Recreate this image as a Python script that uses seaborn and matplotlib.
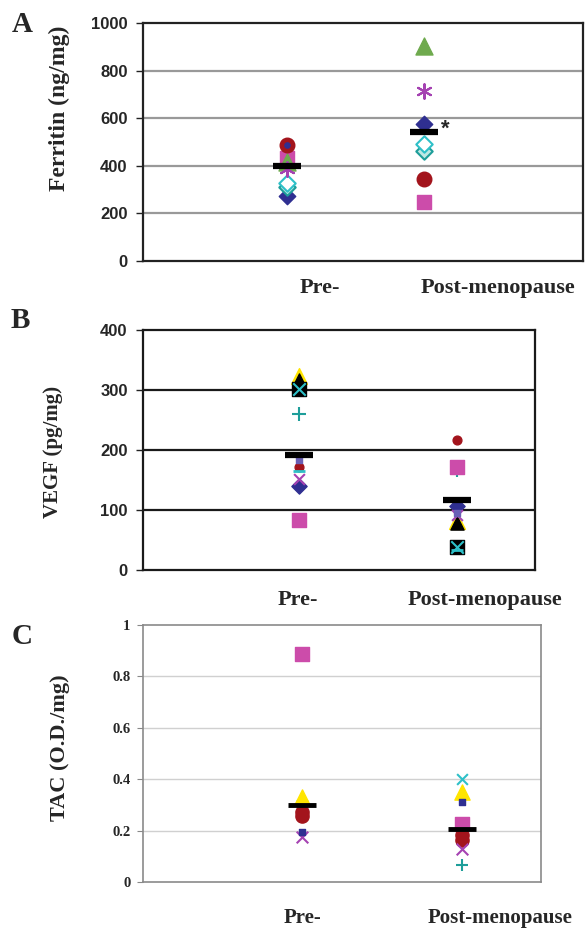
import numpy as np
import matplotlib
matplotlib.use("Agg")
import matplotlib.pyplot as plt
import seaborn as sns

sns.set_style("white")
plt.rcParams['font.family'] = ['Liberation Serif', 'DejaVu Serif']

groups = ["Pre-", "Post-menopause"]
panel_letters = ["A", "B", "C"]
ylabels = ["Ferritin (ng/mg)", "VEGF (pg/mg)", "TAC (O.D./mg)"]

# ---- Panel A: Ferritin (pre, post) ----
ferritin_navy_diamond = [272, 576]
ferritin_pink_square = [433, 248]
ferritin_green_triangle = [416, 903]
ferritin_purple_star = [387, 714]
ferritin_cyan_diamond = [328, 492]
ferritin_teal_diamond = [312, 462]
ferritin_red_circle = [487, 345]
ferritin_navy_dot = [487, 576]
ferritin_mean = [399, 542]
ferritin_ticks = [0, 200, 400, 600, 800, 1000]

# ---- Panel B: VEGF ----
vegf_yellow_triangle = [324, 81]
vegf_black_triangle = [316, 78]
vegf_black_square = [302, 38]
vegf_teal_plus = [260, 167]
vegf_navy_dash = [183, 95]
vegf_red_circle = [172, 217]
vegf_cyan_dash = [165, 33]
vegf_purple_x = [152, 92]
vegf_navy_diamond = [140, 107]
vegf_pink_square = [83, 172]
vegf_mean = [192, 117]
vegf_ticks = [0, 100, 200, 300, 400]

# ---- Panel C: TAC ----
tac_pink_square = [0.887, 0.225]
tac_yellow_triangle = [0.33, 0.35]
tac_red_circle_1 = [0.272, 0.182]
tac_red_circle_2 = [0.258, 0.162]
tac_navy_dash = [0.195, 0.31]
tac_purple_x = [0.175, 0.13]
tac_cyan_x = [0.30, 0.40]
tac_teal_plus = [0.30, 0.065]
tac_mean = [0.30, 0.205]
tac_ticks = [0, 0.2, 0.4, 0.6, 0.8, 1]
tac_ticklabels = ["0", "0.2", "0.4", "0.6", "0.8", "1"]

PINK = "#CC4CAA"
RED = "#A3141C"
NAVY = "#2F2F91"
GREEN = "#6FAA4E"
YELLOW = "#FFE500"
TEAL = "#1E9E9A"
CYAN = "#2EC0C8"
PURPLE = "#A542B2"

xpos = np.arange(len(groups))

fig = plt.figure(figsize=(5.85, 9.33), dpi=100)
W, H = 585.0, 933.0

def make_ax(l, r, t, b):
    return fig.add_axes([l / W, 1 - b / H, (r - l) / W, (b - t) / H])

axA = make_ax(143, 583, 23, 261)
axB = make_ax(143, 535, 330, 570)
axC = make_ax(143, 541, 625, 882)


def pts(ax, vals, marker, color, s, ec=None, lw=1.0, z=3):
    kw = dict(x=xpos, y=vals, marker=marker, color=color, s=s, ax=ax,
              linewidth=lw, zorder=z, legend=False)
    if ec is not None:
        kw["edgecolor"] = ec
    sns.scatterplot(**kw)


asterisk = (6, 2, 0)

# Panel A
pts(axA, ferritin_navy_diamond, "D", NAVY, 70, ec=NAVY)
pts(axA, ferritin_pink_square, "s", PINK, 95, ec=PINK)
pts(axA, ferritin_green_triangle, "^", GREEN, 150, ec=GREEN)
pts(axA, ferritin_red_circle, "o", RED, 110, ec=RED)
pts(axA, ferritin_navy_dot, "o", NAVY, 14, ec=NAVY, z=4)
pts(axA, ferritin_purple_star, asterisk, PURPLE, 110, lw=1.5, z=4)
pts(axA, ferritin_teal_diamond, "D", "#BFE8E4", 70, ec=TEAL, lw=1.5)
pts(axA, ferritin_cyan_diamond, "D", "white", 70, ec=CYAN, lw=1.5)
pts(axA, ferritin_mean, "_", "black", 380, lw=4.5, z=5)
axA.text(xpos[1] + 0.12, ferritin_mean[1] + 12, "*", fontsize=16,
         fontweight="bold", ha="left", va="center", family="Liberation Sans")

# Panel B
pts(axB, vegf_yellow_triangle, "^", YELLOW, 130, ec=YELLOW)
pts(axB, vegf_black_triangle, "^", "black", 90, ec="black")
pts(axB, vegf_black_square, "s", "black", 95, ec="black")
pts(axB, vegf_black_square, "x", CYAN, 80, lw=1.5, z=4)
pts(axB, vegf_teal_plus, "+", TEAL, 90, lw=1.5)
pts(axB, vegf_pink_square, "s", PINK, 95, ec=PINK)
pts(axB, vegf_red_circle, "o", RED, 40, ec=RED)
pts(axB, vegf_navy_diamond, "D", NAVY, 60, ec=NAVY)
pts(axB, vegf_purple_x, "x", PURPLE, 60, lw=1.5)
pts(axB, vegf_navy_dash, "s", "#6A5FB5", 20, ec="#6A5FB5")
pts(axB, vegf_cyan_dash, "_", CYAN, 80, lw=2)
pts(axB, vegf_mean, "_", "black", 420, lw=4.5, z=5)

# Panel C
pts(axC, tac_pink_square, "s", PINK, 110, ec=PINK)
pts(axC, tac_yellow_triangle, "^", YELLOW, 120, ec=YELLOW)
pts(axC, tac_red_circle_1, "o", RED, 90, ec=RED)
pts(axC, tac_red_circle_2, "o", RED, 90, ec=RED)
pts(axC, tac_purple_x, "x", PURPLE, 70, lw=1.5)
pts(axC, tac_navy_dash, "s", NAVY, 22, ec=NAVY, z=4)
pts(axC, tac_cyan_x, "x", CYAN, 60, lw=1.5, z=2)
pts(axC, tac_teal_plus, "+", TEAL, 80, lw=1.5, z=2)
pts(axC, tac_mean, "_", "black", 420, lw=3.5, z=5)

# ---- axes styling ----
axA.set_xlim(-1.048, 2.157)
axB.set_xlim(-0.988, 1.493)
axC.set_xlim(-0.995, 1.493)
axA.set_ylim(0, 1000)
axB.set_ylim(0, 400)
axC.set_ylim(0, 1)

for ax in (axA, axB, axC):
    ax.set_xticks([])
    ax.set_xlabel("")
    ax.set_facecolor("white")

# A
axA.set_yticks(ferritin_ticks)
axA.set_yticklabels([str(t) for t in ferritin_ticks], fontweight="bold",
                    fontsize=12, family="Liberation Sans")
axA.tick_params(axis="y", direction="out", length=5, width=1, color="#222222", pad=6, left=True)
for y in ferritin_ticks[1:-1]:
    axA.axhline(y, color="#999999", lw=1.6, zorder=1)
for side in ("left", "bottom", "top", "right"):
    axA.spines[side].set_color("#222222")
    axA.spines[side].set_linewidth(1.6)

# B
axB.set_yticks(vegf_ticks)
axB.set_yticklabels([str(t) for t in vegf_ticks], fontweight="bold",
                    fontsize=12, family="Liberation Sans")
axB.tick_params(axis="y", direction="out", length=5, width=1, color="#222222", pad=6, left=True)
for y in vegf_ticks[1:-1]:
    axB.axhline(y, color="#1A1A1A", lw=1.6, zorder=1)
for side in ("left", "bottom", "top", "right"):
    axB.spines[side].set_color("#1A1A1A")
    axB.spines[side].set_linewidth(1.6)

# C
axC.set_yticks(tac_ticks)
axC.set_yticklabels(tac_ticklabels, fontweight="bold", fontsize=10.5,
                    family="Liberation Serif")
axC.tick_params(axis="y", direction="out", length=4, width=0.8, color="#888888", pad=5, left=True)
for y in tac_ticks[1:-1]:
    axC.axhline(y, color="#D0D0D0", lw=1.0, zorder=1)
for side in ("left", "bottom", "top", "right"):
    axC.spines[side].set_color("#8A8A8A")
    axC.spines[side].set_linewidth(1.2)

# y labels
label_specs = [(axA, 17, -0.165, 0.643), (axB, 15, -0.205, 0.49), (axC, 16, -0.183, 0.522)]
for (ax, fs, lx, ly), lab in zip(label_specs, ylabels):
    ax.set_ylabel(lab, fontsize=fs, fontweight="bold", family="Liberation Serif")
    ax.yaxis.set_label_coords(lx, ly)

# category labels (figure pixel positions)
cat_specs = [
    ((320, 288), (498, 288), 16),
    ((298, 600), (485, 600), 16),
    ((302, 918), (500, 918), 15),
]
for (p1, p2, fs) in cat_specs:
    for (px, py), g in zip((p1, p2), groups):
        fig.text(px / W, 1 - py / H, g, ha="center", va="center", fontsize=fs,
                 fontweight="bold", family="Liberation Serif")

# panel letters
letter_pos = [(22, 24), (20, 320), (22, 637)]
for (px, py), let in zip(letter_pos, panel_letters):
    fig.text(px / W, 1 - py / H, let, ha="center", va="center", fontsize=21,
             fontweight="bold", family="Liberation Serif")

fig.savefig("out.png", dpi=100, facecolor="white")
